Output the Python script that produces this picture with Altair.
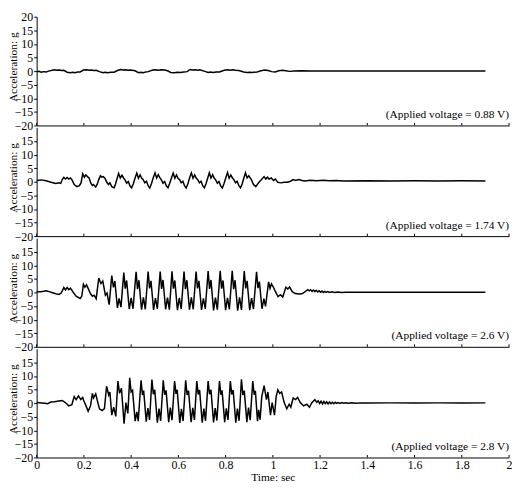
import altair as alt
import pandas as pd

FONT = "Liberation Serif"
X_TICKS = [0, 0.2, 0.4, 0.6, 0.8, 1.0, 1.2, 1.4, 1.6, 1.8, 2.0]
Y_TICKS_TOP = [-20, -15, -10, -5, 0, 5, 10, 15, 20]
Y_TICKS_LOWER = [-20, -15, -10, -5, 0, 5, 10, 15]
VOLTAGE_LABELS = [
    "(Applied voltage = 0.88 V)",
    "(Applied voltage = 1.74 V)",
    "(Applied voltage = 2.6 V)",
    "(Applied voltage = 2.8 V)",
]
X_TITLE = "Time: sec"
Y_TITLE = "Acceleration: g"

# (time s, acceleration g)
wave_088 = [
    (0.000, -0.2), (0.010, -0.1), (0.019, -0.4), (0.030, -0.2), (0.040, -0.3), (0.050, 0.0),
    (0.061, 0.2), (0.075, 0.5), (0.085, 0.3), (0.095, 0.4), (0.105, 0.2), (0.115, 0.3),
    (0.129, -0.4), (0.143, -0.6), (0.153, -0.4), (0.163, -0.6), (0.174, -0.3), (0.184, -0.3),
    (0.198, 0.4), (0.211, 0.5), (0.222, 0.3), (0.232, 0.4), (0.242, 0.2), (0.252, 0.3),
    (0.266, -0.2), (0.280, -0.6), (0.290, -0.4), (0.300, -0.6), (0.314, -0.4), (0.328, -0.4),
    (0.342, 0.2), (0.355, 0.6), (0.366, 0.4), (0.376, 0.5), (0.387, 0.3), (0.397, 0.4),
    (0.417, 0.1), (0.431, -0.6), (0.441, -0.4), (0.451, -0.6), (0.462, -0.3), (0.472, -0.2),
    (0.492, 0.4), (0.503, 0.5), (0.513, 0.3), (0.527, 0.5), (0.541, 0.4), (0.554, 0.1),
    (0.568, -0.5), (0.582, -0.6), (0.596, -0.4), (0.609, -0.5), (0.623, -0.3), (0.637, -0.2),
    (0.650, 0.6), (0.661, 0.4), (0.671, 0.5), (0.681, 0.3), (0.691, 0.5), (0.712, -0.1),
    (0.726, -0.5), (0.736, -0.3), (0.746, -0.5), (0.760, -0.3), (0.774, -0.3), (0.794, 0.3),
    (0.808, 0.5), (0.818, 0.3), (0.829, 0.5), (0.842, 0.3), (0.856, 0.2), (0.877, -0.3),
    (0.891, -0.5), (0.902, -0.4), (0.912, -0.5), (0.933, -0.3), (0.950, 0.1), (0.965, 0.4),
    (0.980, 0.2), (0.995, -0.2), (1.010, -0.3), (1.025, 0.1), (1.040, 0.3), (1.055, 0.1),
    (1.070, -0.1), (1.090, 0.0), (1.120, 0.1), (1.160, 0.0), (1.200, 0.05), (1.300, 0.0),
    (1.400, 0.05), (1.500, 0.0), (1.600, 0.05), (1.700, 0.0), (1.800, 0.05), (1.900, 0.0),
]

wave_174 = [
    (0.000, 0.5), (0.019, 0.7), (0.040, 0.4), (0.061, -0.2), (0.081, -0.6), (0.095, -0.4),
    (0.102, -0.6), (0.108, 0.8), (0.115, 1.6), (0.122, 1.0), (0.129, 1.6), (0.136, 1.0),
    (0.143, 1.4), (0.149, 0.8), (0.159, -1.0), (0.170, -1.8), (0.181, -1.4), (0.188, -0.4),
    (0.195, 2.9), (0.202, 1.7), (0.208, 2.5), (0.215, 1.9), (0.222, 1.4), (0.229, -0.4),
    (0.236, -1.4), (0.241, -1.0), (0.250, -1.9), (0.256, -1.0), (0.263, 0.8),
    (0.270, 2.2), (0.276, 1.7), (0.282, 1.9), (0.289, 1.3), (0.297, -0.2), (0.304, -1.0),
    (0.310, -0.4), (0.318, -1.8), (0.328, -2.2), (0.334, -0.8), (0.340, 1.0),
    (0.347, 3.1), (0.354, 1.4), (0.361, 2.4), (0.368, 1.4), (0.374, 0.7), (0.381, -0.5),
    (0.388, 0.1), (0.395, -1.5), (0.402, -2.2), (0.409, -0.8), (0.416, 1.2),
    (0.424, 3.2), (0.431, 1.3), (0.438, 2.5), (0.445, 1.3), (0.451, 0.8), (0.458, -0.4),
    (0.465, 0.2), (0.472, -1.4), (0.479, -2.3), (0.486, -0.7), (0.493, 1.3),
    (0.501, 3.3), (0.508, 1.4), (0.515, 2.6), (0.522, 1.4), (0.528, 0.7), (0.535, -0.5),
    (0.542, 0.1), (0.549, -1.5), (0.556, -2.2), (0.563, -0.6), (0.570, 1.2),
    (0.578, 3.2), (0.585, 1.3), (0.592, 2.5), (0.599, 1.2), (0.605, 0.8), (0.612, -0.4),
    (0.619, 0.2), (0.626, -1.4), (0.633, -2.3), (0.640, -0.8), (0.647, 1.3),
    (0.655, 3.3), (0.662, 1.3), (0.669, 2.5), (0.676, 1.3), (0.682, 0.8), (0.689, -0.4),
    (0.696, 0.2), (0.703, -1.4), (0.710, -2.2), (0.717, -0.7), (0.724, 1.3),
    (0.731, 3.3), (0.738, 1.4), (0.745, 2.6), (0.752, 1.3), (0.758, 0.7), (0.765, -0.5),
    (0.772, 0.1), (0.779, -1.5), (0.786, -2.3), (0.793, -0.7), (0.800, 1.2),
    (0.808, 3.4), (0.815, 1.3), (0.822, 2.5), (0.829, 1.4), (0.835, 0.8), (0.842, -0.4),
    (0.849, 0.2), (0.856, -1.4), (0.863, -2.2), (0.870, -0.8), (0.877, 1.3),
    (0.884, 3.3), (0.891, 1.4), (0.898, 2.2), (0.909, 0.8), (0.918, -1.0), (0.928, -1.8),
    (0.939, -0.4), (0.952, 0.8), (0.963, 1.9), (0.970, 1.0), (0.977, 1.7), (0.984, 1.0),
    (0.993, 1.4), (1.003, 0.5), (1.011, 1.0), (1.021, -0.2), (1.034, -0.4), (1.048, -0.2),
    (1.062, -0.2), (1.075, 0.2), (1.086, 0.8), (1.096, 0.5), (1.110, 0.8), (1.123, 0.5),
    (1.137, 0.3), (1.158, 0.6), (1.185, 0.4), (1.212, 0.6), (1.240, 0.4), (1.267, 0.5),
    (1.300, 0.3), (1.400, 0.4), (1.500, 0.3), (1.600, 0.35), (1.700, 0.3), (1.800, 0.35),
    (1.900, 0.3),
]

wave_260 = [
    (0.000, 0.3), (0.019, 0.3), (0.040, 0.6), (0.053, 0.3), (0.067, -0.1), (0.081, -0.5),
    (0.095, -0.7), (0.104, -0.2), (0.115, 1.8), (0.122, 0.9), (0.129, 1.8), (0.136, 1.0),
    (0.143, 1.6), (0.154, 0.1), (0.167, -1.4), (0.184, -2.2), (0.191, -1.4), (0.198, 3.0),
    (0.204, 1.9), (0.211, 2.8), (0.219, 1.3), (0.228, -0.5), (0.236, -1.4), (0.243, -1.0),
    (0.252, -2.3), (0.263, 5.3), (0.272, 3.3), (0.280, 4.2), (0.291, -1.0), (0.298, -0.2),
    (0.307, -4.5),
    (0.318, 6.2), (0.325, 1.9), (0.331, 4.2), (0.342, -5.7), (0.349, -2.2), (0.357, -5.4),
    (0.369, 7.3), (0.375, 1.4), (0.381, 4.4), (0.392, -6.1), (0.400, -2.0), (0.408, -6.0),
    (0.421, 7.6), (0.427, 1.2), (0.433, 4.5), (0.444, -6.3), (0.452, -1.8), (0.460, -6.2),
    (0.472, 7.7), (0.478, 1.5), (0.484, 4.3), (0.495, -6.4), (0.503, -2.1), (0.511, -6.0),
    (0.523, 7.7), (0.529, 1.3), (0.535, 4.6), (0.546, -6.2), (0.554, -1.9), (0.562, -6.3),
    (0.573, 7.8), (0.579, 1.4), (0.585, 4.4), (0.596, -6.5), (0.604, -2.0), (0.612, -6.1),
    (0.624, 7.7), (0.630, 1.2), (0.636, 4.5), (0.647, -6.3), (0.655, -1.8), (0.663, -6.2),
    (0.675, 7.7), (0.681, 1.5), (0.687, 4.3), (0.698, -6.4), (0.706, -2.2), (0.714, -6.0),
    (0.726, 7.9), (0.732, 1.3), (0.738, 4.6), (0.749, -6.6), (0.757, -1.9), (0.765, -6.3),
    (0.777, 8.0), (0.783, 1.4), (0.789, 4.4), (0.800, -6.5), (0.808, -2.0), (0.816, -6.2),
    (0.828, 8.0), (0.834, 1.2), (0.840, 4.5), (0.851, -6.7), (0.859, -1.8), (0.867, -6.4),
    (0.879, 7.9), (0.885, 1.5), (0.891, 4.3), (0.902, -6.5), (0.910, -2.1), (0.918, -6.1),
    (0.931, 7.6), (0.937, 1.6), (0.943, 4.0), (0.954, -6.0), (0.962, -2.3), (0.969, -5.1),
    (0.982, 3.9), (0.988, 1.5), (0.994, 3.2), (1.002, 2.0), (1.010, 0.5), (1.022, -1.5),
    (1.032, -0.8), (1.042, -1.7), (1.055, 1.9), (1.063, 1.3), (1.071, 2.0), (1.082, 0.3),
    (1.095, -0.4), (1.110, -0.6), (1.123, -0.5), (1.137, 0.3), (1.148, 1.0), (1.154, 0.6),
    (1.160, 1.0), (1.166, 0.4), (1.172, 0.9), (1.178, 0.3), (1.184, 0.8), (1.190, 0.2),
    (1.196, 0.6), (1.202, 0.1), (1.208, 0.5), (1.214, 0.0), (1.220, 0.4), (1.226, 0.0),
    (1.232, 0.3), (1.240, 0.0), (1.250, 0.25), (1.262, 0.0), (1.275, 0.15), (1.290, 0.0),
    (1.310, 0.1), (1.340, 0.05), (1.400, 0.1), (1.500, 0.05), (1.600, 0.1), (1.700, 0.05),
    (1.800, 0.1), (1.900, 0.05),
]

wave_280 = [
    (0.000, 0.2), (0.033, -0.05), (0.047, -0.2), (0.060, 0.4), (0.075, 0.5), (0.088, 0.7),
    (0.100, 0.9), (0.108, 1.0), (0.120, 0.3), (0.136, -1.0), (0.149, -0.6), (0.159, 2.4),
    (0.167, 1.3), (0.177, 2.7), (0.187, 1.3), (0.195, 2.1), (0.200, 0.8), (0.209, -1.0),
    (0.218, -3.0), (0.228, -1.0), (0.236, 3.6), (0.241, 1.9), (0.250, 3.4), (0.259, 0.2),
    (0.266, -2.1), (0.277, -2.7), (0.287, -2.0), (0.296, 6.2), (0.305, 3.0), (0.310, 4.1),
    (0.318, -4.4), (0.326, -1.5), (0.335, -4.9),
    (0.344, 8.1), (0.351, 3.6), (0.359, 5.5), (0.370, -7.6), (0.378, 0.2), (0.386, -3.8),
    (0.394, 9.3), (0.400, 4.1), (0.406, 4.7), (0.417, -6.6), (0.424, -3.2), (0.430, -6.6),
    (0.442, 8.4), (0.448, 3.0), (0.453, 4.6), (0.464, -6.8), (0.471, -1.8), (0.478, -6.2),
    (0.488, 8.7), (0.494, 3.3), (0.500, 4.9), (0.511, -7.2), (0.518, -2.0), (0.525, -6.5),
    (0.536, 8.4), (0.542, 3.1), (0.548, 4.7), (0.559, -7.0), (0.566, -1.6), (0.573, -6.3),
    (0.584, 8.1), (0.590, 3.4), (0.595, 4.9), (0.606, -7.3), (0.613, -2.1), (0.620, -6.6),
    (0.631, 8.4), (0.637, 3.0), (0.643, 4.6), (0.654, -7.0), (0.661, -1.7), (0.668, -6.2),
    (0.678, 8.1), (0.684, 3.2), (0.690, 4.8), (0.701, -7.2), (0.708, -2.0), (0.715, -6.5),
    (0.726, 8.1), (0.732, 3.3), (0.738, 4.9), (0.749, -7.1), (0.756, -1.8), (0.763, -6.4),
    (0.774, 8.1), (0.780, 3.1), (0.785, 4.7), (0.796, -7.0), (0.803, -1.9), (0.810, -6.2),
    (0.820, 8.1), (0.826, 3.2), (0.832, 4.8), (0.843, -7.2), (0.850, -2.0), (0.857, -6.5),
    (0.867, 8.8), (0.873, 3.0), (0.879, 4.6), (0.890, -7.0), (0.897, -1.6), (0.904, -6.3),
    (0.915, 8.1), (0.921, 3.1), (0.926, 4.5), (0.935, -6.6), (0.940, -2.5), (0.946, -6.1),
    (0.953, 2.4), (0.963, 6.4), (0.973, 1.3), (0.979, 4.1), (0.990, -4.4), (0.997, 0.2),
    (1.007, -4.4), (1.014, 2.4), (1.021, 4.9), (1.029, 3.6), (1.037, 4.1), (1.048, 0.2),
    (1.059, -2.1), (1.069, -0.4), (1.076, -1.5), (1.086, 1.9), (1.096, 1.3), (1.105, 2.1),
    (1.116, 0.2), (1.130, -1.0), (1.144, -0.4), (1.155, -1.5), (1.165, 0.2), (1.178, 1.3),
    (1.186, 0.3), (1.192, 0.9), (1.198, -0.1), (1.204, 0.7), (1.210, -0.3), (1.216, 0.6),
    (1.222, -0.2), (1.228, 0.5), (1.234, -0.3), (1.240, 0.4), (1.246, -0.2), (1.252, 0.3),
    (1.258, -0.2), (1.264, 0.3), (1.270, -0.1), (1.276, 0.2), (1.284, -0.1), (1.292, 0.2),
    (1.300, 0.0), (1.310, 0.15), (1.320, -0.05), (1.335, 0.1), (1.350, 0.0), (1.370, 0.1),
    (1.400, 0.05), (1.500, 0.1), (1.600, 0.05), (1.700, 0.1), (1.800, 0.05), (1.900, 0.1),
]

WAVES = [wave_088, wave_174, wave_260, wave_280]

W, H = 478, 110


def panel(wave, label, yticks, bottom):
    df = pd.DataFrame(wave, columns=["t", "a"])
    xscale = alt.Scale(domain=[0, 2], nice=False, zero=False)
    yscale = alt.Scale(domain=[-20, 20], nice=False)
    if bottom:
        xaxis = alt.Axis(values=X_TICKS, format="~g", ticks=False, labelFlush=False,
                         labelPadding=2, titlePadding=1)
        xtitle = X_TITLE
    else:
        xaxis = alt.Axis(values=X_TICKS, labels=False, ticks=False)
        xtitle = None
    yaxis = alt.Axis(values=yticks, tickSize=3, labelPadding=1, labelOverlap=False,
                     titleX=-18, titleY=round(0.46 * H, 1))
    line = alt.Chart(df).mark_line(color="black", strokeWidth=1.5).encode(
        x=alt.X("t:Q", scale=xscale, axis=xaxis, title=xtitle),
        y=alt.Y("a:Q", scale=yscale, axis=yaxis, title=Y_TITLE),
    )
    ticks = alt.Chart(pd.DataFrame({"t": X_TICKS})).mark_rule(
        color="black", strokeWidth=1
    ).encode(
        x=alt.X("t:Q", scale=xscale, title=xtitle),
        y=alt.value(H),
        y2=alt.value(H - 2.5),
    )
    text = alt.Chart(pd.DataFrame({"label": [label]})).mark_text(
        align="right", baseline="middle", font=FONT, fontSize=11.5, color="black"
    ).encode(
        x=alt.value(W),
        y=alt.value(round(H * 0.9025, 1)),
        text="label:N",
    )
    return alt.layer(line, ticks, text).properties(width=W, height=H)


panels = []
n = len(WAVES)
for i, (wave, label) in enumerate(zip(WAVES, VOLTAGE_LABELS)):
    yt = Y_TICKS_TOP if i == 0 else Y_TICKS_LOWER
    panels.append(panel(wave, label, yt, i == n - 1))

chart = alt.vconcat(*panels, spacing=2, bounds="flush").properties(
    padding={"left": 0, "top": 0, "right": 0, "bottom": 0},
    background="white",
).configure_view(stroke=None).configure_axis(
    grid=False,
    domainColor="black",
    domainWidth=1,
    tickColor="black",
    labelColor="black",
    titleColor="black",
    labelFont=FONT,
    titleFont=FONT,
    labelFontSize=12,
    titleFontSize=11.5,
    titleFontWeight="normal",
    labelOverlap=False,
)

chart.save("out.html", embed_options={"renderer": "svg", "actions": False})
